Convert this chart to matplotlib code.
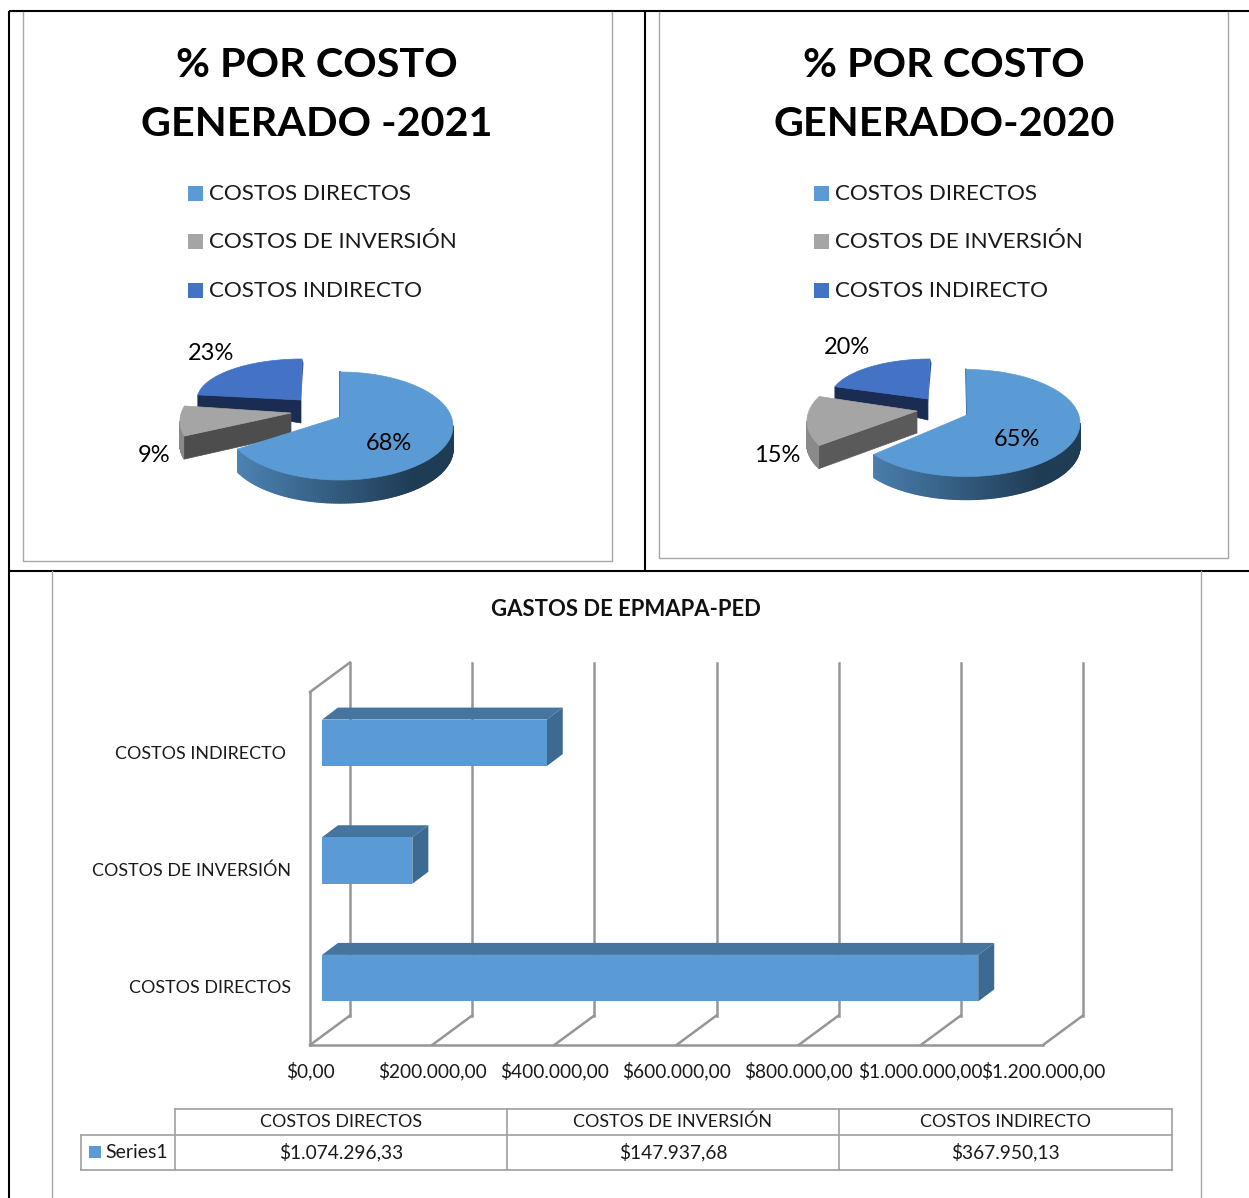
import numpy as np
import matplotlib
matplotlib.use("Agg")
import matplotlib.pyplot as plt
from matplotlib.patches import Polygon
from matplotlib.transforms import ScaledTranslation

plt.rcParams['font.family'] = ['Lato', 'DejaVu Sans']

W, H = 1249, 1198
# ---- data ----
categories = ["COSTOS DIRECTOS", "COSTOS DE INVERSIÓN", "COSTOS INDIRECTO"]
pct_2021 = [68, 9, 23]
pct_2020 = [65, 15, 20]
title_2021 = "% POR COSTO\nGENERADO -2021"
title_2020 = "% POR COSTO\nGENERADO-2020"
bar_title = "GASTOS DE EPMAPA-PED"
gastos = [1074296.33, 147937.68, 367950.13]
gastos_txt = ["$1.074.296,33", "$147.937,68", "$367.950,13"]
x_ticks = [0, 200000, 400000, 600000, 800000, 1000000, 1200000]
x_labels = ["$0,00", "$200.000,00", "$400.000,00", "$600.000,00", "$800.000,00",
            "$1.000.000,00", "$1.200.000,00"]
series_name = "Series1"

C_BLUE, C_GREY, C_DARK = "#5B9BD5", "#A5A5A5", "#4472C4"

fig = plt.figure(figsize=(W / 100, H / 100), dpi=100, facecolor="white")
pg = fig.add_axes([0, 0, 1, 1])
pg.set_xlim(0, W); pg.set_ylim(H, 0); pg.axis("off")

BLACK = dict(color="black", lw=1.5, solid_capstyle="butt")
pg.plot([9, W], [11, 11], **BLACK)
pg.plot([9, 9], [11, H], **BLACK)
pg.plot([645, 645], [11, 570], **BLACK)
pg.plot([9, W], [570.5, 570.5], **BLACK)
GREY = dict(color="#a6a6a6", lw=1.0)
pg.plot([23, 23, 612, 612], [12, 561, 561, 12], **GREY)
pg.plot([659, 659, 1228, 1228], [12, 558, 558, 12], **GREY)
pg.plot([52, 52], [571, H], **GREY)
pg.plot([1201, 1201], [571, H], **GREY)


def mix(c1, c2, t):
    a, b = np.array(matplotlib.colors.to_rgb(c1)), np.array(matplotlib.colors.to_rgb(c2))
    return a + (b - a) * np.clip(t, 0, 1)


def rim(g, th):
    th = np.radians(np.asarray(th) + g["rot"])
    return np.c_[g["cx"] + g["a"] * np.sin(th), g["cy"] - g["b"] * np.cos(th)]


def draw_slice(g, start, end, color, face, wall=None, grad=None, z=2):
    ths = np.linspace(start, end, 260)
    pts = rim(g, ths)
    apex = np.array(g["apex"])
    t = g["t"]
    # outer wall
    for i in range(len(ths) - 1):
        th_mid = np.radians((ths[i] + ths[i + 1]) / 2 + g["rot"])
        if np.cos(th_mid) >= 0.0:
            continue
        p, q = pts[i], pts[i + 1]
        if grad is not None:
            col = mix(grad[0], grad[1], (p[0] - (g["cx"] - g["a"])) / (1.65 * g["a"]))
        else:
            col = wall
        pg.add_patch(Polygon([p, q, q + [0, t], p + [0, t]], closed=True, fc=col, ec=col,
                             lw=1.0, zorder=z))
    # cut faces
    if face is not None:
        p0 = pts[0]
        pg.add_patch(Polygon([apex, p0, p0 + [0, g.get("t_rim", t)], apex + [0, g.get("t_apex", t)]],
                             closed=True, fc=face, ec=face, lw=0.5, zorder=z))
    # top surface
    pg.add_patch(Polygon(np.vstack([apex, pts]), closed=True, fc=color, ec=color, lw=0.5, zorder=z + 0.5))


def pie3d(values, geoms, faces):
    cum = np.cumsum([0] + list(values)) / sum(values) * 360
    # back slice first, then the grey one, then the main slice
    g = geoms[2]
    draw_slice(g, cum[2], cum[3], C_DARK, "#1A2C52", z=2)
    top = rim(g, [cum[3]])[0]
    pg.add_patch(Polygon([top, g["apex"], np.array(g["apex"]) + [-1.5, g["t_apex"]], top + [1.5, 4]],
                         closed=True, fc="#2F5597", ec="none", zorder=2))
    draw_slice(geoms[1], cum[1], cum[2], C_GREY, faces, wall="#8A8A8A", z=3)
    g = geoms[0]
    draw_slice(g, cum[0], cum[1], C_BLUE, None, grad=("#4F86B8", "#1F3C55"), z=4)
    top = rim(g, [0])[0]
    pg.plot([top[0], g["apex"][0]], [top[1], g["apex"][1]], color="#2A4A68", lw=1.2, zorder=4.2)


pie3d(pct_2021,
      [dict(cx=340, cy=426, a=113, b=54, rot=0, apex=(340, 417), t=23),
       dict(cx=293, cy=421, a=113, b=54, rot=9, apex=(291, 413), t=23, t_rim=23, t_apex=22),
       dict(cx=302, cy=400, a=105, b=41, rot=0, apex=(301, 400), t=12, t_rim=12, t_apex=23)],
      "#4D4D4D")
pie3d(pct_2020,
      [dict(cx=966, cy=423, a=114, b=53.5, rot=0, apex=(967, 415), t=23),
       dict(cx=920, cy=421, a=113, b=54, rot=9, apex=(917, 411), t=23, t_rim=23, t_apex=22),
       dict(cx=930, cy=399, a=100, b=40, rot=0, apex=(928, 399), t=12, t_rim=12, t_apex=21)],
      "#5A5A5A")

TS, LS, PS = 29.8, 16.1, 17.0
for title, xc in ((title_2021, 317), (title_2020, 944)):
    pg.text(xc, 95, title, ha="center", va="center", fontsize=TS, fontweight="bold",
            linespacing=1.72, color="black")
for sx in (188, 814):
    for cat, col, yy in zip(categories, (C_BLUE, C_GREY, C_DARK), (193, 241, 290)):
        pg.add_patch(plt.Rectangle((sx, yy - 7), 15, 15, fc=col, ec="none"))
        pg.text(sx + 21, yy + 1, cat, ha="left", va="center", fontsize=LS, color="#1a1a1a")
for pct, pos in zip(pct_2021, [(389, 444), (154, 456), (211, 353)]):
    pg.text(*pos, f"{pct}%", ha="center", va="center", fontsize=PS, zorder=6)
for pct, pos in zip(pct_2020, [(1017, 440), (777, 456), (847, 348)]):
    pg.text(*pos, f"{pct}%", ha="center", va="center", fontsize=PS, zorder=6)

# ---- bar chart: the axes is the front plane of the 3-D box ----
L, R, B, T = 310, 1043, 1045, 692
ax = fig.add_axes([L / W, 1 - B / H, (R - L) / W, (B - T) / H], facecolor="none")
ax.set_xlim(0, 1200000)
ax.set_ylim(-0.5, 2.5)
sx_ = 1200000 / (R - L)
sy_ = 3 / (B - T)
ypos = np.arange(len(gastos))
line_c = "#969696"

for s in ("top", "right"):
    ax.spines[s].set_visible(False)
for s in ("left", "bottom"):
    ax.spines[s].set_color(line_c); ax.spines[s].set_linewidth(1.8)

bx, by = 40 * sx_, 29.5 * sy_
for t in x_ticks:
    ax.plot([t + bx, t + bx], [-0.5 + by, 2.5 + by], color=line_c, lw=1.8, clip_on=False, zorder=1)
    ax.plot([t, t + bx], [-0.5, -0.5 + by], color=line_c, lw=1.8, clip_on=False, zorder=1)
ax.plot([0, bx], [2.5, 2.5 + by], color=line_c, lw=1.8, clip_on=False, zorder=1)

ox, oy = 12 * sx_, 8 * sy_
dx, dy = 16 * sx_, 12 * sy_
bh = 46.5 * sy_
ax.barh(ypos + oy, gastos, height=bh, left=ox, color=C_BLUE, zorder=4, clip_on=False)
for y, v in zip(ypos, gastos):
    y0, y1 = y + oy - bh / 2, y + oy + bh / 2
    x0, x1 = ox, ox + v
    ax.add_patch(Polygon([(x0, y1), (x1, y1), (x1 + dx, y1 + dy), (x0 + dx, y1 + dy)], closed=True,
                         fc="#45759F", ec="none", zorder=3, clip_on=False))
    ax.add_patch(Polygon([(x1, y0), (x1, y1), (x1 + dx, y1 + dy), (x1 + dx, y0 + dy)], closed=True,
                         fc="#3D6A92", ec="none", zorder=3, clip_on=False))

ax.set_xticks(x_ticks, x_labels, fontsize=13.8, color="#1a1a1a")
ax.set_yticks(ypos, categories, fontsize=12.9, color="#1a1a1a")
ax.tick_params(axis="x", length=0, pad=12.3)
ax.tick_params(axis="y", length=0, pad=14)
# nudge each category label, in pixels (right, down)
for lab, (nx, ny) in zip(ax.get_yticklabels(), [(1, 0), (0, 1), (-5, 2)]):
    lab.set_transform(lab.get_transform() + ScaledTranslation(nx / 100, -ny / 100, fig.dpi_scale_trans))

pg.text(626, 609, bar_title, ha="center", va="center", fontsize=15.9, fontweight="bold", color="#111111")

# ---- data table ----
tb = dict(color="#a0a0a0", lw=1.2)
cols = [175, 507, 839, 1172]
pg.plot([175, 1172], [1108.5, 1108.5], **tb)
pg.plot([81, 1172], [1135, 1135], **tb)
pg.plot([81, 1172], [1170, 1170], **tb)
pg.plot([81, 81], [1135, 1170], **tb)
for c in cols:
    pg.plot([c, c], [1108.5, 1170], **tb)
for i, (cat, val) in enumerate(zip(categories, gastos_txt)):
    xc = (cols[i] + cols[i + 1]) / 2
    pg.text(xc, 1122, cat, ha="center", va="center", fontsize=12.9, color="#1a1a1a")
    pg.text(xc, 1152.5, val, ha="center", va="center", fontsize=13.8, color="#1a1a1a")
pg.add_patch(plt.Rectangle((89, 1146), 12, 12, fc=C_BLUE, ec="none"))
pg.text(105, 1152, series_name, ha="left", va="center", fontsize=14, color="#1a1a1a")

fig.savefig("out.png", dpi=100)
